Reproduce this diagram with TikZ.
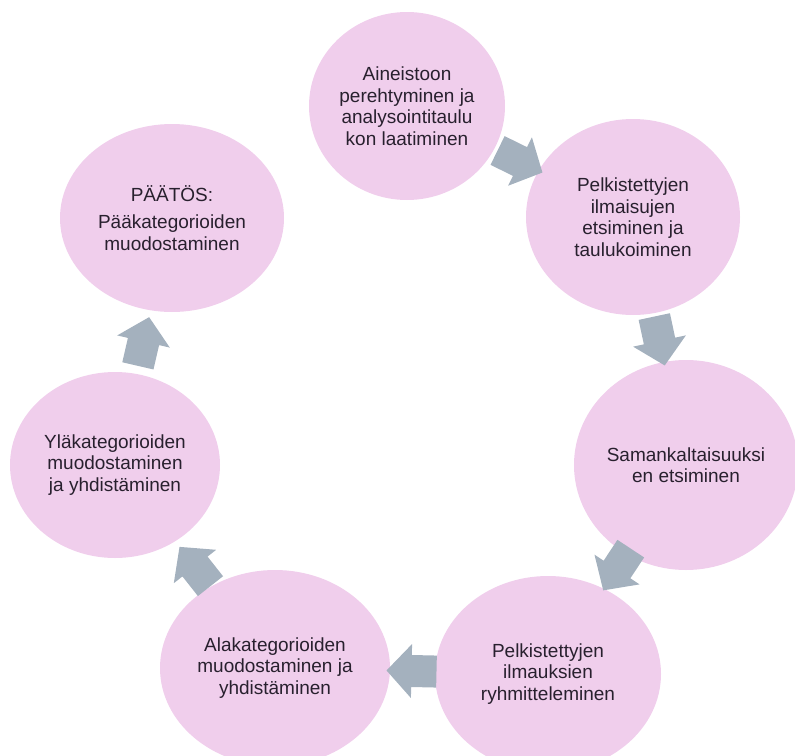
\documentclass[tikz,border=0pt]{standalone}
\usepackage{fontspec}
\setmainfont{Liberation Sans}
\usetikzlibrary{shapes.geometric,calc}
\definecolor{bubblefill}{RGB}{240,206,236}
\definecolor{arrowgray}{RGB}{164,177,190}
\definecolor{txt}{RGB}{40,32,46}
\begin{document}
\begin{tikzpicture}[x=1pt,y=-1pt,
  bubble/.style={ellipse, fill=bubblefill, inner sep=0pt, align=center, text=txt,
    font=\fontsize{19}{21.5}\selectfont},
  blockarrow/.pic={\fill[arrowgray] (-25,-16) -- (0,-16) -- (0,-27) -- (25,0) -- (0,27) -- (0,16) -- (-25,16) -- cycle;}
]
\useasboundingbox (0,0) rectangle (795,755);
\begin{scope}
\clip (0,0) rectangle (795,755);
\node[bubble, minimum width=196pt, minimum height=188pt] (c1) at (407,106)
  {Aineistoon\\perehtyminen ja\\analysointitaulu\\kon laatiminen};
\node[bubble, minimum width=214pt, minimum height=196pt] (c2) at (633,217)
  {Pelkistettyjen\\ilmaisujen\\etsiminen ja\\taulukoiminen};
\node[bubble, minimum width=222pt, minimum height=210pt] (c3) at (686,465)
  {Samankaltaisuuksi\\en etsiminen};
\node[bubble, minimum width=226pt, minimum height=196pt] (c4) at (548,674)
  {Pelkistettyjen\\ilmauksien\\ryhmitteleminen};
\node[bubble, minimum width=230pt, minimum height=196pt] (c5) at (275,668)
  {Alakategorioiden\\muodostaminen ja\\yhdistäminen};
\node[bubble, minimum width=210pt, minimum height=186pt] (c6) at (115,465)
  {Yläkategorioiden\\muodostaminen\\ja yhdistäminen};
\node[bubble, minimum width=224pt, minimum height=188pt] (c7) at (172,218)
  {PÄÄTÖS:\\[6pt]Pääkategorioiden\\muodostaminen};
\foreach \a/\b in {c1/c2,c2/c3,c3/c4,c4/c5,c5/c6,c6/c7}
  \path let \p1=($(\b)-(\a)$), \n1={atan2(\y1,\x1)} in
    ($(\a)!0.5!(\b)$) pic[rotate=\n1] {blockarrow};
\end{scope}
\end{tikzpicture}
\end{document}
